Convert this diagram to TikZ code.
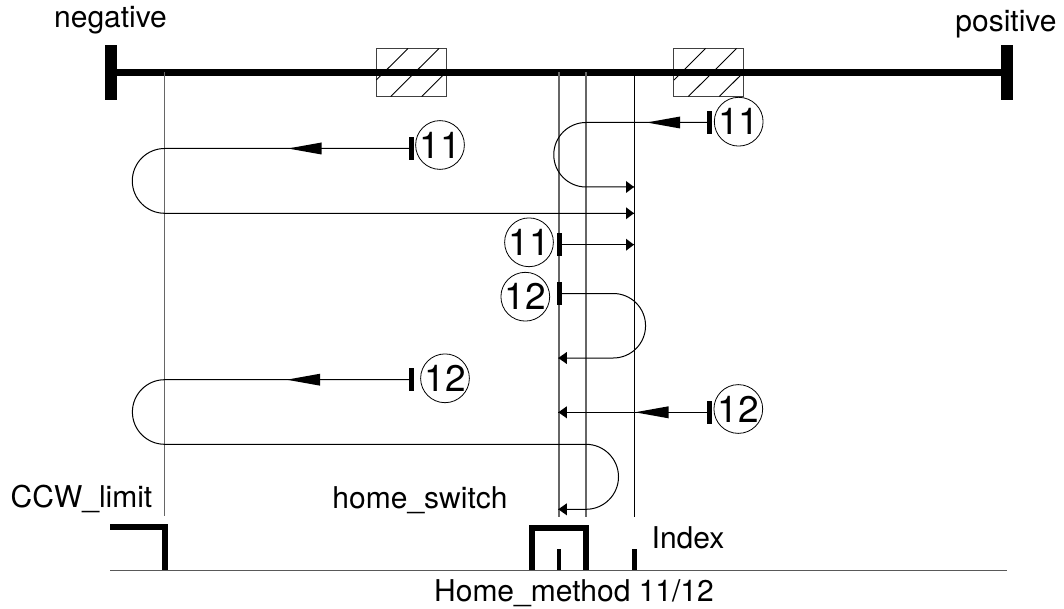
\documentclass[tikz,border=0pt]{standalone}
\usepackage{fontspec}
\setmainfont{TeX Gyre Heros}
\tikzset{
  lbl/.style={font=\fontsize{30}{32}\selectfont,anchor=base,inner sep=0pt},
  num/.style={draw,circle,line width=0.8pt,minimum size=45pt,inner sep=0pt,font=\fontsize{37}{37}\selectfont,text height=26.5pt,text depth=0pt},
  tickmark/.style={fill=black,inner sep=0pt,minimum width=4.5pt,minimum height=23pt},
  guide/.style={line width=1.1pt,draw=black!60},
  guideb/.style={line width=1pt,draw=black},
  run/.style={line width=1pt},
  hatchbox/.style={draw=black!75,line width=1pt,minimum width=70pt,minimum height=48pt,inner sep=0pt},
  hatch/.style={line width=0.9pt},
  pulse/.style={line width=6pt,miter limit=10}
}
\newcommand{\bighead}[2]{\fill (#1,#2) -- (#1+33.5,#2-6) -- (#1+33.5,#2+6) -- cycle;}
\newcommand{\smallright}[2]{\fill (#1,#2) -- (#1-8,#2-6) -- (#1-8,#2+6) -- cycle;}
\newcommand{\smallleft}[2]{\fill (#1,#2) -- (#1+8.5,#2-6) -- (#1+8.5,#2+6) -- cycle;}
\begin{document}
\begin{tikzpicture}[x=1pt,y=-1pt]
\useasboundingbox (0,0) rectangle (1064,609);
% hatch boxes
\node[hatchbox] (hb1) at (411.3,72.5) {};
\node[hatchbox] (hb2) at (708.9,72.5) {};
\foreach \d in {0,297.6}{
  \draw[hatch] (408+\d,48.5) -- (376.3+\d,80);
  \draw[hatch] (439+\d,48.5) -- (390.7+\d,96.5);
  \draw[hatch] (446.3+\d,72) -- (421.7+\d,96.5);
}
% axis
\node[fill=black,inner sep=0pt,minimum width=11.7pt,minimum height=55pt] (endL) at (110.8,72.5) {};
\node[fill=black,inner sep=0pt,minimum width=12pt,minimum height=55pt] (endR) at (1007,72.5) {};
\draw[line width=6.5pt] (endL) -- (endR);
% guides
\coordinate (g1t) at (164.7,72); \coordinate (g1b) at (164.7,516);
\coordinate (g2t) at (559,72);   \coordinate (g2b) at (559,516.7);
\coordinate (g3t) at (586,72);   \coordinate (g3b) at (586,516.7);
\coordinate (g4t) at (634.3,72); \coordinate (g4b) at (634.3,516.7);
\draw[guide] (g1t) -- (g1b);
\draw[guide] (g2t) -- (g2b);
\draw[guide] (g3t) -- (g3b);
\draw[guideb] (g4t) -- (g4b);
% circled numbers and ticks
\node[num] (c1) at (440,145) {11};
\node[tickmark] (t1) at (411.7,148.5) {};
\node[num] (c2) at (738.7,121.7) {11};
\node[tickmark] (t2) at (709.3,122.5) {};
\node[num] (c3) at (529,242.3) {11};
\node[tickmark] (t3) at (559.3,244.7) {};
\node[num] (c4) at (525.3,296.7) {12};
\node[tickmark] (t4) at (559.3,293.5) {};
\node[num] (c5) at (445,378.3) {12};
\node[tickmark] (t5) at (411.5,379.7) {};
\node[num] (c6) at (738.3,409) {12};
\node[tickmark] (t6) at (709.3,412.3) {};
% runs
\coordinate (e1) at (634,213.3);
\draw[run] (t1.center) -- (164.7,148.5) arc[start angle=-90,end angle=-270,radius=32.4] -- (e1);
\coordinate (e2) at (634,187);
\draw[run] (t2.center) -- (586,122.5) arc[start angle=-90,end angle=-270,radius=32.25] -- (e2);
\coordinate (e3) at (634,244.7);
\draw[run] (t3.center) -- (e3);
\coordinate (e4) at (558.3,358);
\draw[run] (t4.center) -- (613.3,293.5) arc[start angle=-90,end angle=90,radius=32.25] -- (e4);
\coordinate (e5) at (586,444.3);
\coordinate (e5b) at (558.3,509.3);
\draw[run] (t5.center) -- (164.7,379.7) arc[start angle=-90,end angle=-270,radius=32.3] -- (e5) arc[start angle=-90,end angle=90,radius=32.5] -- (e5b);
\coordinate (e6) at (558.3,412.3);
\draw[run] (t6.center) -- (e6);
% arrowheads
\bighead{288}{148.5}
\bighead{646.7}{122.5}
\smallright{634}{187}
\smallright{634}{213.3}
\smallright{634}{244.7}
\smallleft{558.3}{358}
\bighead{286.7}{379.7}
\bighead{635}{412.3}
\smallleft{558.3}{412.3}
\smallleft{558.3}{509.3}
% signals
\coordinate (bl) at (110,570.3); \coordinate (br) at (1007,570.3);
\draw[line width=1pt,draw=black!65] (bl) -- (br);
\draw[pulse] (110,527) -- (165,527) -- (165,570);
\draw[pulse] (532,570) -- (532,527.5) -- (586,527.5) -- (586,570);
\draw[line width=4.5pt] (559,549) -- (559,570);
\draw[line width=4.5pt] (634.5,549) -- (634.5,570);
% labels
\node[lbl] (lneg) at (110.5,27.5) {negative};
\node[lbl] (lpos) at (1006,31.5) {positive};
\node[lbl] (lccw) at (81.5,507.5) {CCW\_limit};
\node[lbl] (lhome) at (420,508) {home\_switch};
\node[lbl] (lidx) at (688,548.3) {Index};
\node[lbl] (lmeth) at (574,601.7) {Home\_method 11/12};
\end{tikzpicture}
\end{document}
